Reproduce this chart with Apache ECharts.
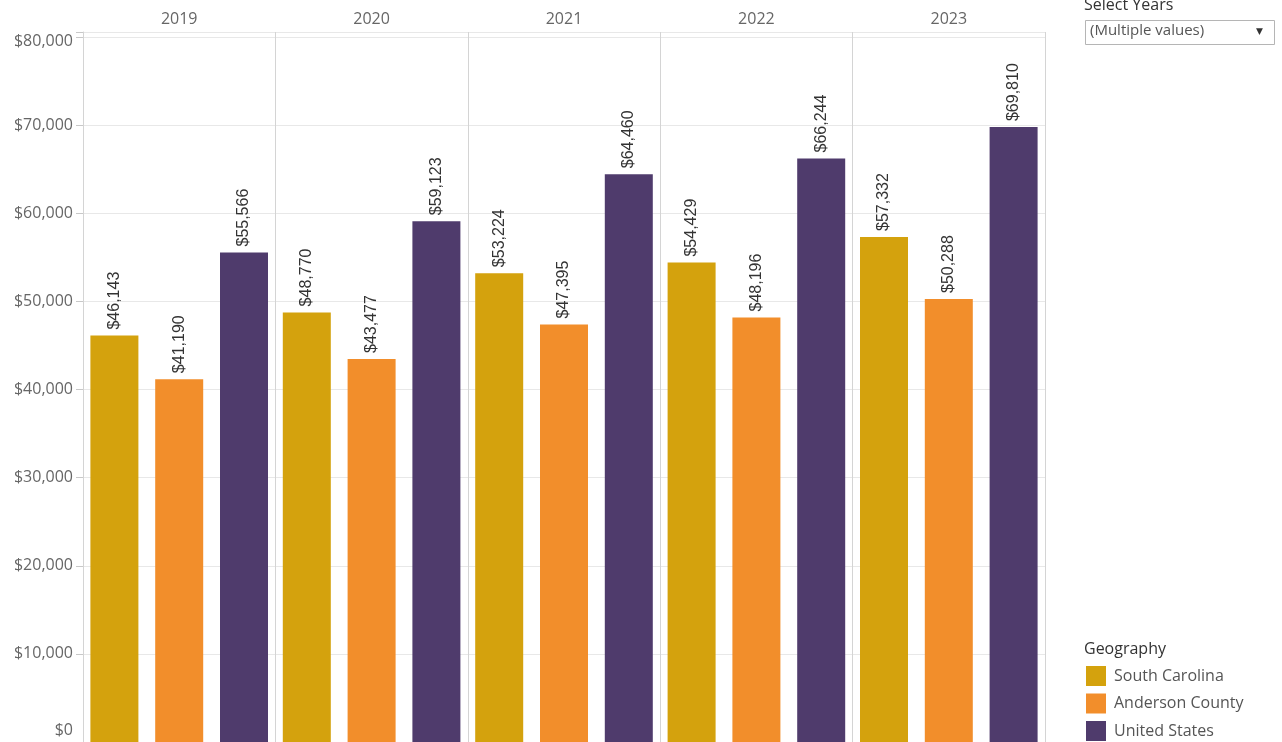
<!DOCTYPE html>
<html><head><meta charset="utf-8">
<script src="https://cdn.jsdelivr.net/npm/echarts@6/dist/echarts.min.js"></script>
<style>html,body{margin:0;padding:0;background:#fff}#c{width:1282px;height:742px}</style>
</head><body><div id="c"></div>
<script>
const years = ['2019','2020','2021','2022','2023'];
const seriesNames = ['South Carolina','Anderson County','United States'];
const southCarolina = [46143, 48770, 53224, 54429, 57332];
const andersonCounty = [41190, 43477, 47395, 48196, 50288];
const unitedStates = [55566, 59123, 64460, 66244, 69810];
const colors = ['#D4A20D', '#F28E2B', '#4F3B6C'];
const yTicks = [0,10000,20000,30000,40000,50000,60000,70000,80000];

const fmt = v => '$' + v.toLocaleString('en-US');
const chart = echarts.init(document.getElementById('c'));
const values = [southCarolina, andersonCounty, unitedStates];
chart.setOption({
  animation: false,
  textStyle: { fontFamily: 'Open Sans' },
  title: [
    { text: 'Select Years', left: 1079, top: -8, textStyle: { fontSize: 16, fontWeight: 'normal', color: '#333', fontFamily: 'Open Sans' } },
    { text: 'Geography', left: 1079, top: 636, textStyle: { fontSize: 16, fontWeight: 'normal', color: '#333', fontFamily: 'Open Sans' } }
  ],
  graphic: [
    { type: 'rect', shape: { x: 1085.5, y: 20.5, width: 189, height: 24 }, style: { fill: '#fff', stroke: '#b5b5b5', lineWidth: 1 } },
    { type: 'text', x: 1090, y: 23, style: { text: '(Multiple values)', fill: '#555', font: '15px "Open Sans"' } },
    { type: 'text', x: 1256, y: 27, style: { text: '▼', fill: '#333', font: '9px "DejaVu Sans"' } }
  ],
  legend: {
    data: seriesNames, orient: 'vertical', left: 1086, top: 666, padding: 0, itemWidth: 20, itemHeight: 20, itemGap: 7.5,
    icon: 'rect', textStyle: { fontSize: 16, color: '#555', fontFamily: 'Open Sans', padding: [0,0,0,3] }
  },
  grid: { left: 83, right: 237, top: 32, bottom: -5, containLabel: false },
  xAxis: {
    type: 'category', data: years, position: 'top',
    axisLine: { show: true, lineStyle: { color: '#d4d4d4' } },
    axisTick: { show: false },
    axisLabel: { color: '#666', fontSize: 16, margin: 5, fontFamily: 'Open Sans' },
    splitLine: { show: true, lineStyle: { color: '#d4d4d4', width: 1 } }
  },
  yAxis: {
    type: 'value', min: 0, max: 80600, interval: 10000,
    axisLine: { show: true, lineStyle: { color: '#d4d4d4' } },
    axisTick: { show: true, length: 7, lineStyle: { color: '#c8c8c8' } },
    axisLabel: { color: '#666', fontSize: 16, margin: 10, fontFamily: 'Open Sans',
      formatter: v => {
        if (yTicks.indexOf(v) < 0) return '';
        if (v === 0) return '{lo|' + fmt(v) + '}';
        if (v === 80000) return '{hi|' + fmt(v) + '}';
        return fmt(v);
      },
      rich: {
        lo: { fontSize: 16, color: '#666', fontFamily: 'Open Sans', padding: [0, 0, 24, 0] },
        hi: { fontSize: 16, color: '#666', fontFamily: 'Open Sans', padding: [8, 0, 0, 0] }
      }
    },
    splitLine: { show: true, lineStyle: { color: '#e8e8e8' } }
  },
  series: seriesNames.map((n, i) => ({
    name: n, type: 'bar', data: values[i], barWidth: 48, barGap: '35%',
    itemStyle: { color: colors[i] },
    label: { show: true, position: 'top', rotate: 90, align: 'left', verticalAlign: 'middle', distance: 6,
      color: '#333', fontSize: 16, fontFamily: 'Liberation Sans', formatter: p => fmt(p.value) }
  }))
});
</script></body></html>
